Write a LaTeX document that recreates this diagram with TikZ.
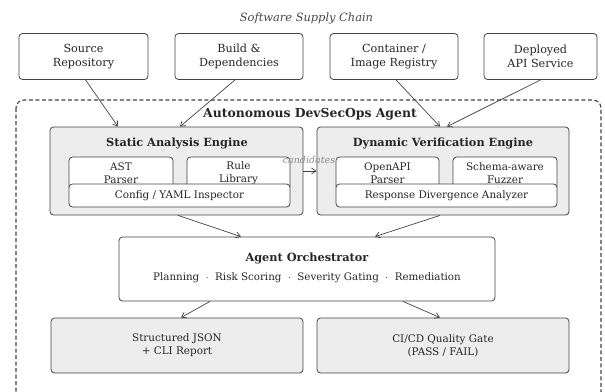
\documentclass[tikz,border=0pt]{standalone}
\usepackage{fontspec}
\setmainfont{DejaVu Serif}
\usetikzlibrary{arrows.meta}
\definecolor{edge}{HTML}{444444}
\definecolor{ink}{HTML}{262626}
\definecolor{panel}{HTML}{EDEDED}
\definecolor{note}{HTML}{8A8A8A}
\tikzset{
  box/.style={draw=edge, line width=0.8pt, rounded corners=3.5pt, align=center, inner sep=0pt, text=ink},
  srcbox/.style={box, fill=white, minimum height=46pt, font=\fontsize{11.2}{13.5}\selectfont},
  engine/.style={box, fill=panel, minimum height=88pt},
  part/.style={box, fill=white, font=\fontsize{10.4}{13}\selectfont},
  outbox/.style={box, fill=panel, minimum height=55pt, font=\fontsize{10.4}{13}\selectfont},
  heading/.style={font=\bfseries\fontsize{11.3}{12}\selectfont, inner sep=0pt, text=ink},
  flow/.style={draw=edge, line width=0.7pt, -{Straight Barb[length=4.5pt,width=6pt]}},
}
\begin{document}
\begin{tikzpicture}[x=1pt,y=-1pt]
\useasboundingbox (0,0) rectangle (605,391);

\node[font=\itshape\fontsize{11.4}{13}\selectfont, text=ink!85] (sctitle) at (306.5,18) {Software Supply Chain};

% supply chain stages
\node[srcbox, minimum width=129pt] (src) at (83.5,56.5) {Source\\Repository};
\node[srcbox, minimum width=128pt] (bld) at (239,56.5) {Build \&\\Dependencies};
\node[srcbox, minimum width=128pt] (reg) at (394,56.5) {Container /\\Image Registry};
\node[srcbox, minimum width=113pt] (api) at (540.5,56.5) {Deployed\\API Service};

% agent boundary
\draw[draw=edge, line width=1.1pt, dash pattern=on 4pt off 2.5pt, rounded corners=8pt] (16,100) rectangle (601,420);
\node[font=\bfseries\fontsize{12.4}{14}\selectfont, inner sep=0pt, text=ink] (agent) at (310,114) {Autonomous DevSecOps Agent};

% static analysis engine
\node[engine, minimum width=253pt] (static) at (176.5,171) {};
\node[heading] (sttitle) at (177,143) {Static Analysis Engine};
\node[part, minimum width=104pt, minimum height=33pt] (ast) at (121,173.5) {AST\\Parser};
\node[part, minimum width=103pt, minimum height=33pt] (rule) at (238.5,173.5) {Rule\\Library};
\node[part, minimum width=221pt, minimum height=23pt] (cfg) at (179.5,195.5) {Config / YAML Inspector};

% dynamic verification engine
\node[engine, minimum width=252pt] (dyn) at (443,171) {};
\node[heading] (dytitle) at (443,143) {Dynamic Verification Engine};
\node[part, minimum width=103pt, minimum height=33pt] (oapi) at (387.5,173.5) {OpenAPI\\Parser};
\node[part, minimum width=104pt, minimum height=33pt] (fuzz) at (505,173.5) {Schema-aware\\Fuzzer};
\node[part, minimum width=221pt, minimum height=23pt] (resp) at (446.5,195.5) {Response Divergence Analyzer};

% orchestrator
\node[box, fill=white, minimum width=376pt, minimum height=64pt] (orch) at (307,269) {};
\node[heading] (ortitle) at (307,258) {Agent Orchestrator};
\node[font=\fontsize{10.3}{12}\selectfont, inner sep=0pt, text=ink] (orsub) at (307,278) {Planning \ $\cdot$ \ Risk Scoring \ $\cdot$ \ Severity Gating \ $\cdot$ \ Remediation};

% outputs
\node[outbox, minimum width=252pt] (rep) at (177,345.5) {Structured JSON\\+ CLI Report};
\node[outbox, minimum width=252pt] (gate) at (443,345.5) {CI/CD Quality Gate\\(PASS / FAIL)};

% connectors
\draw[flow] ([xshift=2pt]src.south) -- ([xshift=-58.5pt]static.north);
\draw[flow] ([xshift=-4pt]bld.south) -- ([xshift=3.5pt]static.north);
\draw[flow] ([xshift=2pt]reg.south) -- ([xshift=-3pt]dyn.north);
\draw[flow] (api.south) -- ([xshift=4pt]dyn.north);
\draw[flow] (static.east) -- (dyn.west);
\node[font=\itshape\fontsize{9.5}{10}\selectfont, text=note, inner sep=0pt] (cand) at (309,159.5) {candidates};
\draw[flow] ([xshift=1.5pt]static.south) -- ([xshift=-66pt]orch.north);
\draw[flow] ([xshift=-3pt]dyn.south) -- ([xshift=68pt]orch.north);
\draw[flow] ([xshift=-97pt]orch.south) -- ([xshift=4pt]rep.north);
\draw[flow] ([xshift=96pt]orch.south) -- ([xshift=-3pt]gate.north);
\end{tikzpicture}
\end{document}
